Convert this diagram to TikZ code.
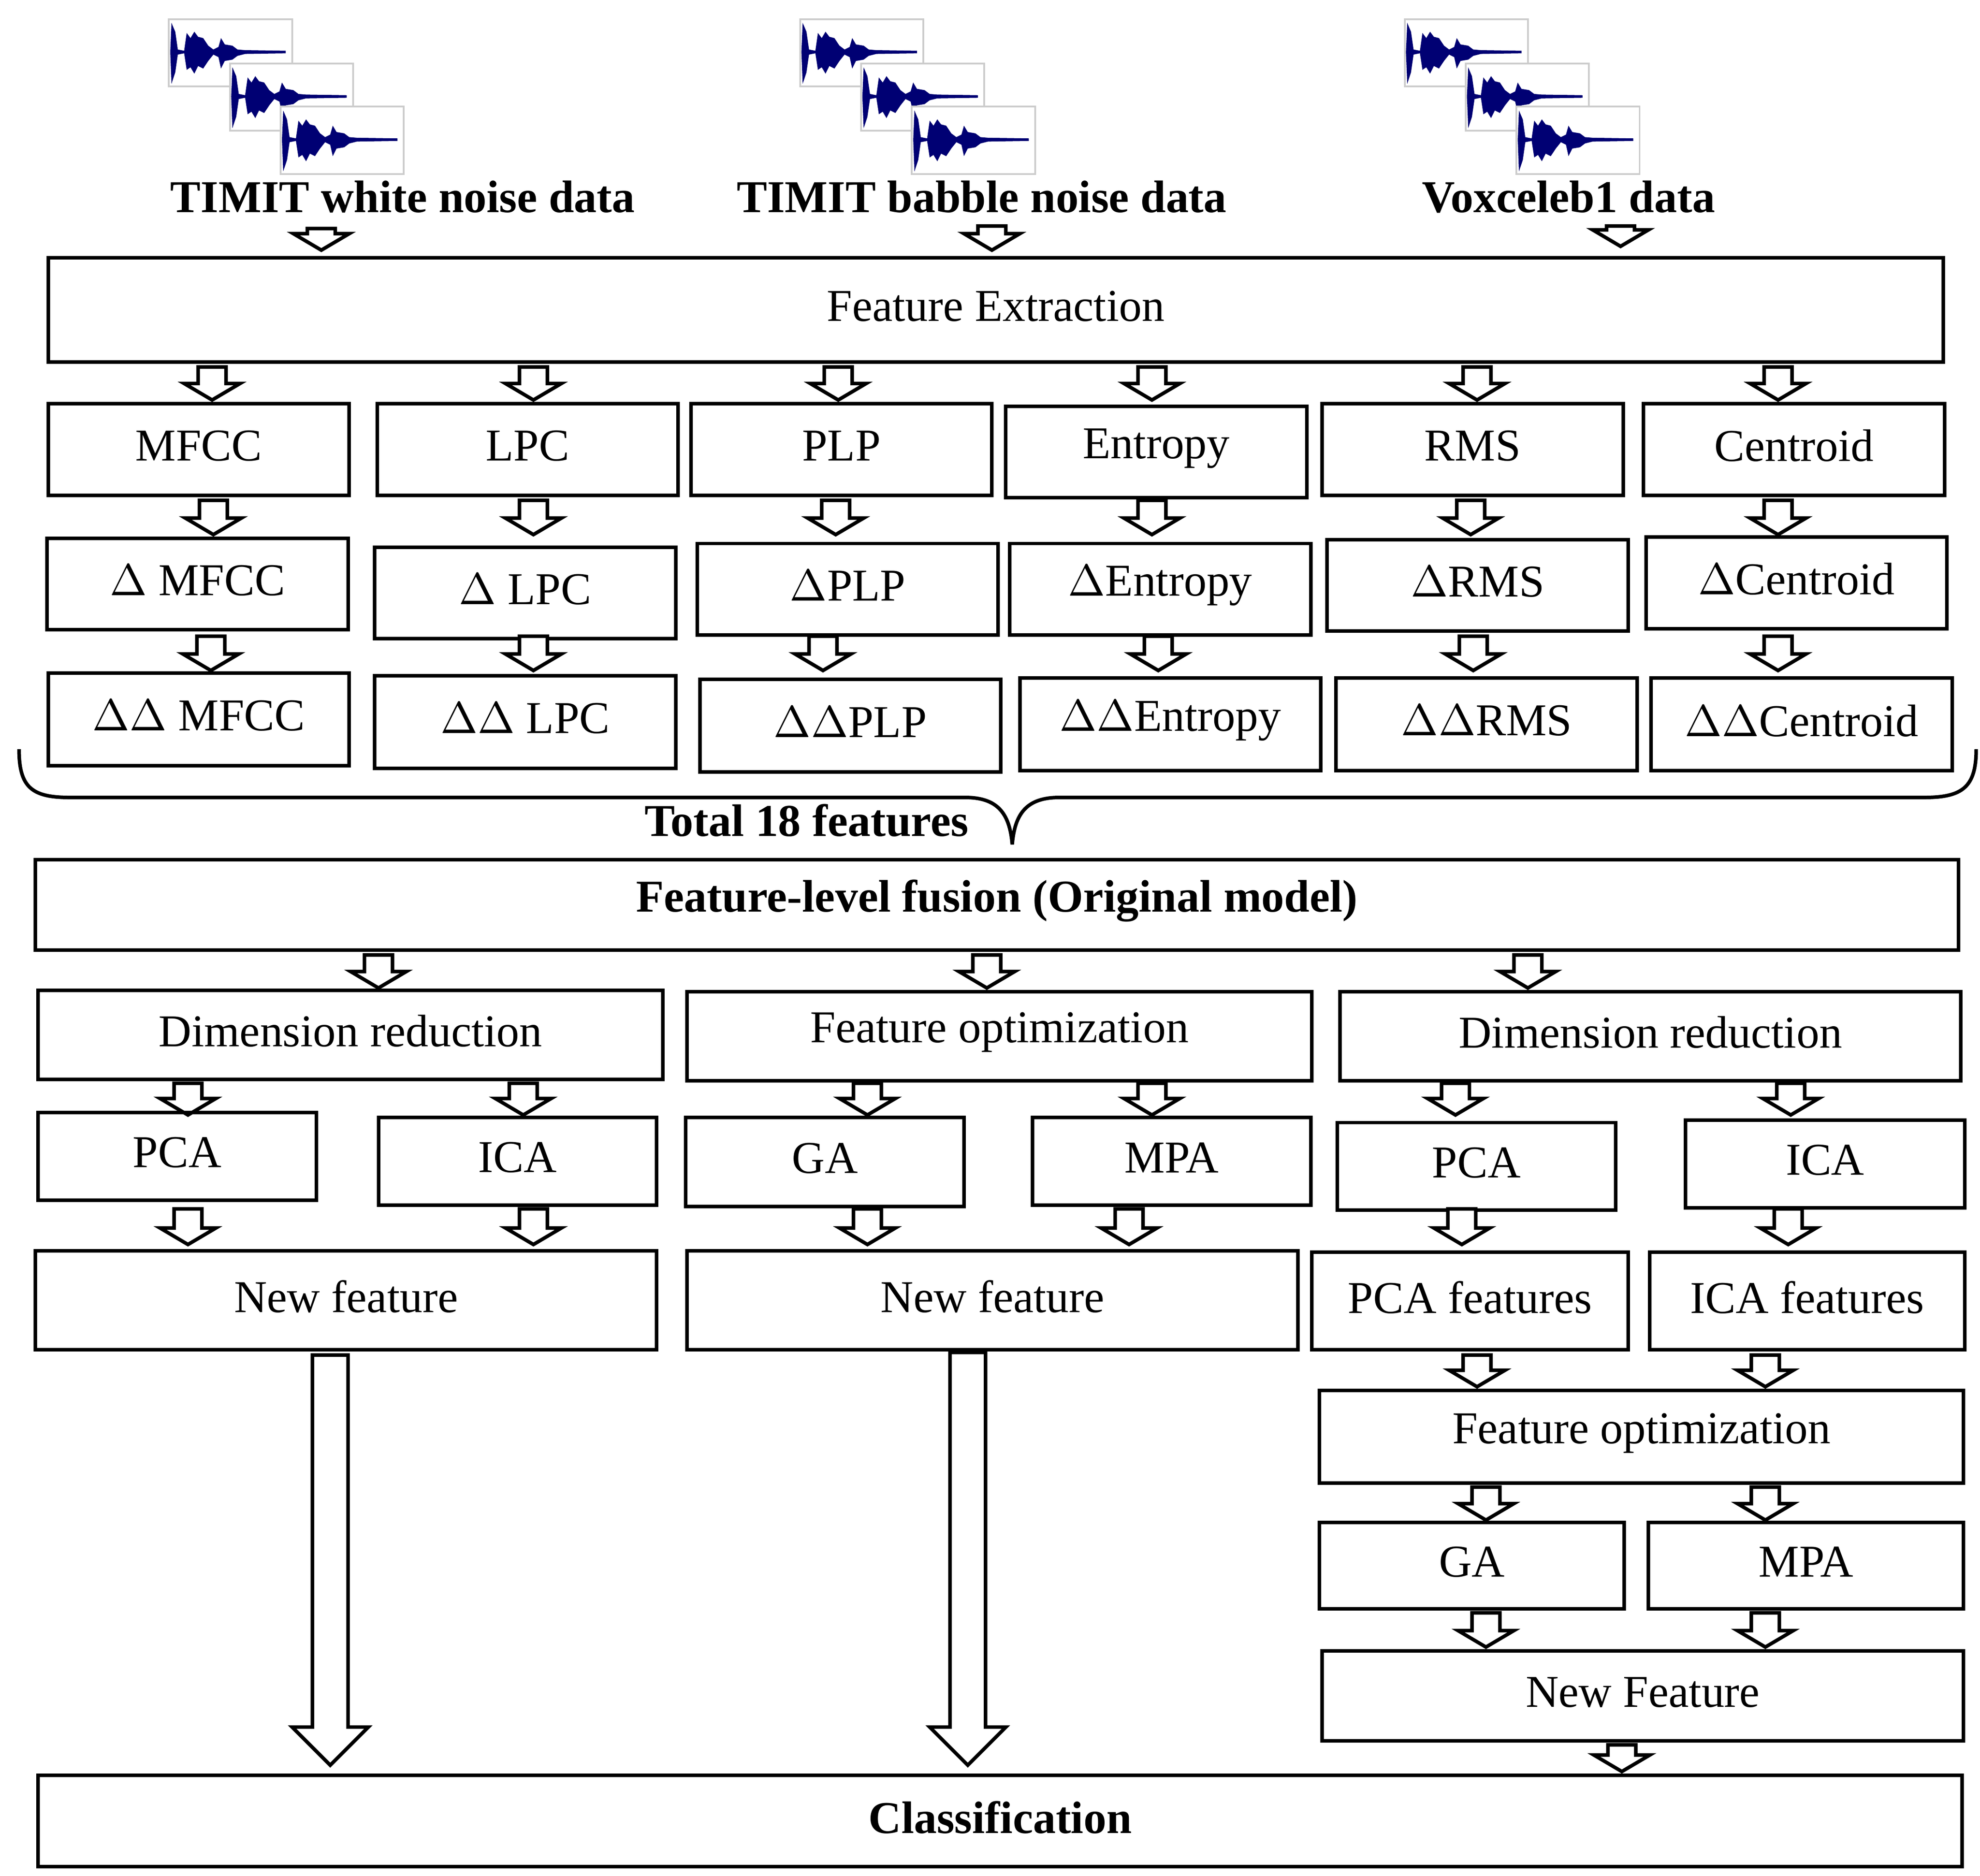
\documentclass[tikz,border=0pt]{standalone}
\usepackage{fontspec}
\setmainfont{Liberation Serif}
\begin{document}
\begin{tikzpicture}[x=0.01cm,y=-0.01cm,
  lw/.style={line width=0.8pt},
  lbl/.style={font=\fontsize{10.2}{12}\selectfont, inner sep=0pt},
  blbl/.style={font=\fontsize{10.2}{12}\selectfont\bfseries, inner sep=0pt},
  wavebox/.style={draw=black!20, line width=0.4pt, fill=white},
  wavefill/.style={fill=blue!45!black, draw=none}]
\useasboundingbox (0,0) rectangle (1559,1477);
\newcommand\bx[6]{\draw[lw] (#2,#3) rectangle (#4,#5); \node[lbl] (#1) at ({(#2+#4)/2},{(#3+#5)/2-3}) {#6};}
\newcommand\bbx[6]{\draw[lw] (#2,#3) rectangle (#4,#5); \node[blbl] (#1) at ({(#2+#4)/2},{(#3+#5)/2-3}) {#6};}
\newcommand\barr[3]{\draw[lw,fill=white] (#1-11,#2) -- (#1+11,#2) -- (#1+11,#3-13) -- (#1+22,#3-13) -- (#1,#3) -- (#1-22,#3-13) -- (#1-11,#3-13) -- cycle;}
\newcommand\wave[2]{%
 \draw[wavebox] (#1,#2) rectangle ++(97,53);
 \fill[wavefill] (#1+1,#2+26) -- (#1+2,#2+3) -- (#1+5,#2+10) -- (#1+7,#2+24) -- (#1+12,#2+25) -- (#1+14,#2+11) -- (#1+17,#2+15) -- (#1+20,#2+10) -- (#1+23,#2+14) -- (#1+27,#2+15) -- (#1+31,#2+21) -- (#1+35,#2+24) -- (#1+39,#2+22) -- (#1+41,#2+15) -- (#1+44,#2+20) -- (#1+50,#2+21) -- (#1+54,#2+24) -- (#1+60,#2+24.5) -- (#1+92,#2+25) -- (#1+92,#2+27) -- (#1+60,#2+27.5) -- (#1+54,#2+29) -- (#1+50,#2+32) -- (#1+44,#2+33) -- (#1+41,#2+39) -- (#1+39,#2+30) -- (#1+35,#2+28) -- (#1+31,#2+33) -- (#1+27,#2+39) -- (#1+23,#2+37) -- (#1+20,#2+43) -- (#1+17,#2+38) -- (#1+14,#2+40) -- (#1+12,#2+27) -- (#1+7,#2+28) -- (#1+5,#2+42) -- (#1+2,#2+51) -- cycle;}
% waveforms
\foreach \gx in {133,630,1106}{
 \wave{\gx}{15}
 \wave{\gx+48}{50}
 \wave{\gx+88}{84}
}
\node[blbl] (d1) at (317,155) {TIMIT white noise data};
\node[blbl] (d2) at (773,155) {TIMIT babble noise data};
\node[blbl] (d3) at (1235,155) {Voxceleb1 data};
\barr{253}{180}{197}\barr{781}{178}{197}\barr{1276}{178}{194}
\bx{fe}{38}{203}{1530}{285}{Feature Extraction}
\foreach \x in {167,420,660,907,1163,1400}{\barr{\x}{289}{315}}
\bx{r11}{38}{318}{275}{390}{MFCC}
\bx{r12}{297}{318}{534}{390}{LPC}
\bx{r13}{544}{318}{781}{390}{PLP}
\bx{r14}{792}{320}{1029}{392}{Entropy}
\bx{r15}{1041}{318}{1278}{390}{RMS}
\bx{r16}{1294}{318}{1531}{390}{Centroid}
\foreach \x in {168,420,658,907,1158,1400}{\barr{\x}{394}{421}}
\bx{r21}{37}{424}{274}{496}{$\Delta$ MFCC}
\bx{r22}{295}{431}{532}{503}{$\Delta$ LPC}
\bx{r23}{549}{428}{786}{500}{$\Delta$PLP}
\bx{r24}{795}{428}{1032}{500}{$\Delta$Entropy}
\bx{r25}{1045}{425}{1282}{497}{$\Delta$RMS}
\bx{r26}{1296}{423}{1533}{495}{$\Delta$Centroid}
\foreach \x in {166,420,648,912,1160,1400}{\barr{\x}{501}{528}}
\bx{r31}{38}{530}{275}{603}{$\Delta\Delta$ MFCC}
\bx{r32}{295}{532}{532}{605}{$\Delta\Delta$ LPC}
\bx{r33}{551}{535}{788}{608}{$\Delta\Delta$PLP}
\bx{r34}{803}{534}{1040}{607}{$\Delta\Delta$Entropy}
\bx{r35}{1052}{534}{1289}{607}{$\Delta\Delta$RMS}
\bx{r36}{1300}{534}{1537}{607}{$\Delta\Delta$Centroid}
% brace
\draw[lw] (15,590) .. controls (15,620) and (25,628) .. (55,628) -- (760,628) .. controls (785,628) and (795,640) .. (797,665) .. controls (799,640) and (809,628) .. (834,628) -- (1515,628) .. controls (1545,628) and (1556,620) .. (1556,590);
\node[blbl] (tot) at (635,646) {Total 18 features};
\bbx{fus}{28}{677}{1542}{748}{Feature-level fusion (Original model)}
\foreach \x in {298,777,1203}{\barr{\x}{752}{778}}
\bx{dr1}{30}{780}{522}{850}{Dimension reduction}
\bx{fo1}{541}{781}{1033}{851}{Feature optimization}
\bx{dr2}{1055}{781}{1544}{851}{Dimension reduction}
\foreach \x in {148,412,683,907,1146,1410}{\barr{\x}{853}{878}}
\bx{pca1}{30}{876}{249}{945}{PCA}
\bx{ica1}{298}{880}{517}{949}{ICA}
\bx{ga1}{540}{880}{759}{950}{GA}
\bx{mpa1}{813}{880}{1032}{949}{MPA}
\bx{pca2}{1053}{884}{1272}{953}{PCA}
\bx{ica2}{1327}{882}{1547}{951}{ICA}
\foreach \x in {148,420,683,889,1151,1408}{\barr{\x}{952}{980}}
\bx{nf1}{28}{985}{517}{1063}{New feature}
\bx{nf2}{541}{985}{1022}{1063}{New feature}
\bx{pcaf}{1033}{986}{1282}{1063}{PCA features}
\bx{icaf}{1299}{986}{1547}{1063}{ICA features}
\foreach \x in {1163,1390}{\barr{\x}{1067}{1092}}
\bx{fo2}{1039}{1095}{1546}{1168}{Feature optimization}
\foreach \x in {1170,1390}{\barr{\x}{1171}{1197}}
\bx{ga2}{1039}{1199}{1279}{1267}{GA}
\bx{mpa2}{1298}{1199}{1546}{1267}{MPA}
\foreach \x in {1170,1390}{\barr{\x}{1270}{1297}}
\bx{nf3}{1041}{1300}{1546}{1371}{New Feature}
\barr{1277}{1374}{1395}
\bbx{cls}{30}{1398}{1545}{1470}{Classification}
% long arrows
\foreach \x/\t in {260/1067,762/1065}{
 \draw[lw,fill=white] (\x-14,\t) -- (\x+14,\t) -- (\x+14,1360) -- (\x+30,1360) -- (\x,1390) -- (\x-30,1360) -- (\x-14,1360) -- cycle;}
\end{tikzpicture}
\end{document}
